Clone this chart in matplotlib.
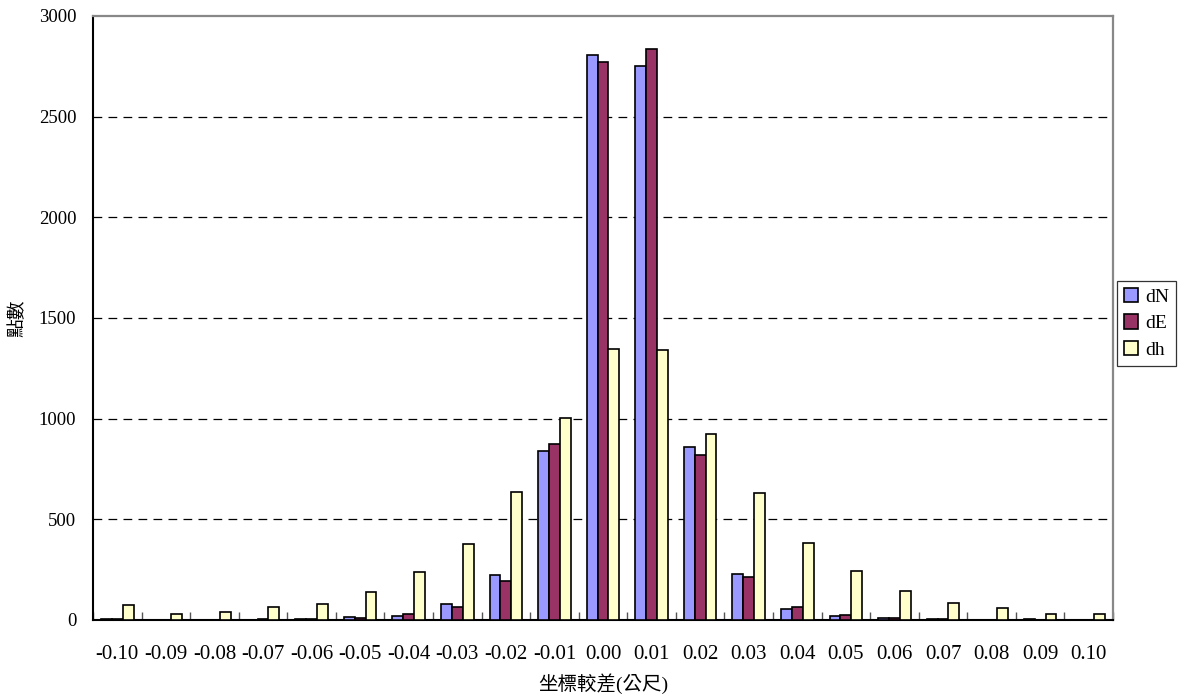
import matplotlib
matplotlib.use("Agg")
import matplotlib.pyplot as plt
import numpy as np
from matplotlib.patches import Patch

categories = ["-0.10", "-0.09", "-0.08", "-0.07", "-0.06", "-0.05", "-0.04", "-0.03", "-0.02", "-0.01",
              "0.00", "0.01", "0.02", "0.03", "0.04", "0.05", "0.06", "0.07", "0.08", "0.09", "0.10"]
dN = [5, 1, 1, 1, 4, 13, 21, 79, 224, 841, 2806, 2753, 858, 228, 53, 21, 10, 4, 1, 3, 1]
dE = [5, 1, 1, 3, 5, 12, 31, 66, 192, 874, 2771, 2837, 820, 212, 66, 23, 8, 7, 1, 1, 1]
dh = [76, 31, 41, 65, 79, 137, 240, 377, 637, 1002, 1347, 1339, 922, 632, 381, 245, 143, 84, 61, 31, 31]
series_names = ["dN", "dE", "dh"]
colors = ["#9999FF", "#993366", "#FFFFCC"]
yticks = [0, 500, 1000, 1500, 2000, 2500, 3000]

fam = ["Liberation Serif", "Noto Sans CJK TC"]
plt.rcParams["font.family"] = fam

fig = plt.figure(figsize=(11.84, 7.0), dpi=100)
ax = fig.add_axes([93 / 1184, 1 - 620 / 700, (1113 - 93) / 1184, (620 - 16) / 700])

x = np.arange(len(categories))
w = 0.224
for k, (vals, c) in enumerate(zip([dN, dE, dh], colors)):
    ax.bar(x + (k - 1) * w, vals, width=w, color=c, edgecolor="black", linewidth=1.2, zorder=3)

ax.set_xlim(-0.5, len(categories) - 0.5)
ax.set_ylim(0, 3000)
ax.set_yticks(yticks)
ax.set_yticklabels([str(v) for v in yticks], fontsize=13.5)
ax.tick_params(axis="y", length=0, pad=12)
for v in yticks[1:-1]:
    ax.axhline(v, color="black", linestyle=(0, (7, 5)), linewidth=0.9, zorder=1)

ax.set_xticks(x)
ax.set_xticklabels(categories, fontsize=15)
ax.tick_params(axis="x", length=0, pad=18)
ax.set_xticks(np.arange(len(categories) + 1) - 0.5, minor=True)
ax.tick_params(axis="x", which="minor", direction="in", length=6, color="#555555", width=1)

for s in ["top", "right"]:
    ax.spines[s].set_color("#888888")
    ax.spines[s].set_linewidth(1.6)
for s in ["left", "bottom"]:
    ax.spines[s].set_color("black")
    ax.spines[s].set_linewidth(1.5)

ax.set_xlabel("坐標較差(公尺)", fontsize=14, labelpad=7)
ax.set_ylabel("點數", fontsize=13.5, labelpad=9)

handles = [Patch(facecolor=c, edgecolor="black", linewidth=1.2) for c in colors]
leg = fig.legend(handles, series_names, loc="upper left", bbox_to_anchor=(1117 / 1184, 1 - 281 / 700),
                 fontsize=14, frameon=True, fancybox=False, edgecolor="black",
                 handlelength=0.75, handleheight=0.75, handletextpad=0.35, borderpad=0.35, labelspacing=0.45,
                 borderaxespad=0)
leg.get_frame().set_linewidth(0.9)

fig.savefig("out.png", dpi=100)
